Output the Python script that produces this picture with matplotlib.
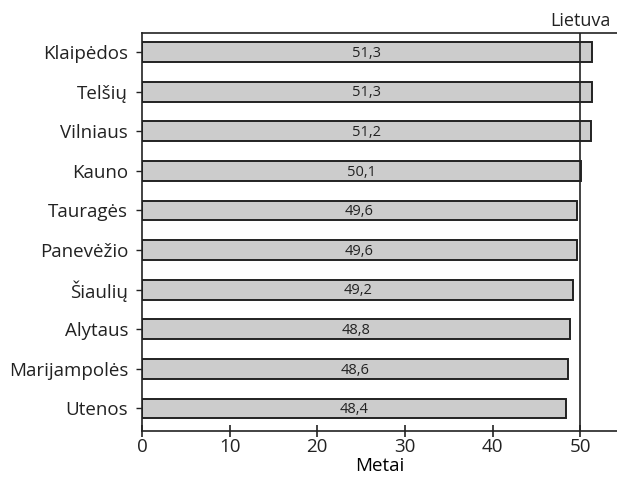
import matplotlib
matplotlib.use("Agg")
import matplotlib.pyplot as plt

# apskritys ir vidutinis amžius
regions = ["Klaipėdos", "Telšių", "Vilniaus", "Kauno", "Tauragės",
           "Panevėžio", "Šiaulių", "Alytaus", "Marijampolės", "Utenos"]
values = [51.3, 51.3, 51.2, 50.1, 49.6, 49.6, 49.2, 48.8, 48.6, 48.4]
lietuva = 50.0
xticks = [0, 10, 20, 30, 40, 50]

plt.rcParams['font.family'] = ['Open Sans', 'DejaVu Sans']

fig = plt.figure(figsize=(6.17, 4.88), dpi=100)
ax = fig.add_axes([142 / 617, 1 - 431 / 488, 475 / 617, (431 - 33) / 488])

y = list(range(len(regions)))
ax.barh(y, values, height=0.5, color="#cccccc", edgecolor="#222222", linewidth=1.4)
for yi, v in zip(y, values):
    ax.text(v / 2, yi + 0.03, f"{v:.1f}".replace(".", ","), ha="center", va="center",
            fontsize=10.5, color="#222222")

ax.axvline(lietuva, color="#222222", linewidth=1.2)
ax.text(lietuva, -0.55, "Lietuva", ha="center", va="bottom", fontsize=13,
        color="#222222")

ax.set_yticks(y)
ax.set_yticklabels(regions, fontsize=13.5)
ax.set_ylim(9.57, -0.48)
ax.set_xlim(0, 54.2)
ax.set_xticks(xticks)
ax.set_xticklabels([str(t) for t in xticks], fontsize=13.5)
ax.set_xlabel("Metai", fontsize=13.5, labelpad=1)

ax.spines["right"].set_visible(False)
for s in ("left", "top", "bottom"):
    ax.spines[s].set_color("#222222")
    ax.spines[s].set_linewidth(1.2)
ax.tick_params(axis="x", direction="inout", length=8, width=1.2, colors="#222222", pad=1)
ax.tick_params(axis="y", direction="out", length=4, width=1, colors="#222222", pad=6)

fig.savefig("out.png", dpi=100)
